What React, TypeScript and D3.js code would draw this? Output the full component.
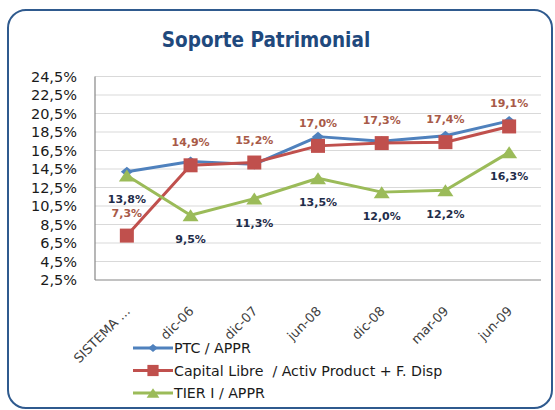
import React from "react";
import * as d3 from "d3";

const categories = ["SISTEMA ...", "dic-06", "dic-07", "jun-08", "dic-08", "mar-09", "jun-09"];
const ptcAppr = [14.2, 15.3, 15.0, 18.0, 17.5, 18.1, 19.7];
const capitalLibre = [7.3, 14.9, 15.2, 17.0, 17.3, 17.4, 19.1];
const tierAppr = [13.8, 9.5, 11.3, 13.5, 12.0, 12.2, 16.3];
const yTicks = [2.5, 4.5, 6.5, 8.5, 10.5, 12.5, 14.5, 16.5, 18.5, 20.5, 22.5, 24.5];
const seriesNames = ["PTC / APPR", "Capital Libre  / Activ Product + F. Disp", "TIER I / APPR"];
const title = "Soporte Patrimonial";

const W = 555;
const H = 410;
const FONT = "'DejaVu Sans', Verdana, sans-serif";
const TITLE_FONT = "'DejaVu Sans Condensed', 'DejaVu Sans', sans-serif";
const BLUE = "#4F81BD";
const RED = "#C0504D";
const GREEN = "#9BBB59";

const fmt = (v: number) => v.toFixed(1).replace(".", ",") + "%";

function Marker({ kind, x, y, color, scale = 1 }: { kind: string; x: number; y: number; color: string; scale?: number }) {
  if (kind === "diamond") {
    const w = 6 * scale, h = 5 * scale;
    return <path d={`M${x},${y - h}L${x + w},${y}L${x},${y + h}L${x - w},${y}Z`} fill={color} />;
  }
  if (kind === "square") {
    const s = 7 * scale;
    return <rect x={x - s} y={y - s} width={2 * s} height={2 * s} fill={color} />;
  }
  const w = 8 * scale, h = 6 * scale;
  return <path d={`M${x},${y - h}L${x + w},${y + h}L${x - w},${y + h}Z`} fill={color} />;
}

export default function App() {
  const left = 95, right = 541, top = 76.5, bottom = 280;
  const x = d3.scalePoint<string>().domain(categories).range([left, right]).padding(0.5);
  const y = d3.scaleLinear().domain([2.5, 24.5]).range([bottom, top]);
  const line = d3.line<number>().x((_, i) => x(categories[i]) as number).y((d) => y(d));

  const series = [
    { name: seriesNames[0], data: ptcAppr, color: BLUE, marker: "diamond", labels: false, above: true, labelColor: "#1F3A60" },
    { name: seriesNames[1], data: capitalLibre, color: RED, marker: "square", labels: true, above: true, labelColor: "#A85A48" },
    { name: seriesNames[2], data: tierAppr, color: GREEN, marker: "triangle", labels: true, above: false, labelColor: "#1F2D4A" },
  ];

  return (
    <svg width={W} height={H} style={{ position: "absolute", left: 0, top: 0, background: "#fff" }} fontFamily={FONT}>
      <rect x={8} y={10} width={544} height={398} rx={18} ry={18} fill="#fff" stroke="#2F5A8E" strokeWidth={2} />
      <text x={266} y={47} textAnchor="middle" fontSize={20.5} fontWeight="bold" fill="#1F497D" fontFamily={TITLE_FONT}>{title}</text>

      {yTicks.map((t) => (
        <g key={t}>
          {t > 2.5 && <line x1={left} x2={right} y1={y(t)} y2={y(t)} stroke="#D9D9D9" strokeWidth={1.2} />}
          <text x={77} y={y(t)} dy="0.36em" textAnchor="end" fontSize={14.5} fill="#1a1a1a">{fmt(t)}</text>
        </g>
      ))}
      <line x1={left} x2={left} y1={top} y2={bottom} stroke="#868686" strokeWidth={1.2} />
      <line x1={left} x2={right} y1={bottom} y2={bottom} stroke="#868686" strokeWidth={1.2} />

      {categories.map((c) => (
        <text key={c} transform={`translate(${(x(c) as number) + 4},${bottom + 32}) rotate(-45)`} textAnchor="end" fontSize={13} fill="#404040">{c}</text>
      ))}

      {series.map((s) => (
        <g key={s.name}>
          <path d={line(s.data) || ""} fill="none" stroke={s.color} strokeWidth={3} strokeLinejoin="round" />
          {s.data.map((v, i) => (
            <Marker key={i} kind={s.marker} x={x(categories[i]) as number} y={y(v)} color={s.color} />
          ))}
        </g>
      ))}

      {series.filter((s) => s.labels).map((s) => (
        <g key={s.name + "-l"}>
          {s.data.map((v, i) => (
            <text key={i} x={x(categories[i]) as number} y={s.above ? y(v) - 19 : y(v) + 28} textAnchor="middle" fontSize={11} fontWeight="bold" fill={s.labelColor}>{fmt(v)}</text>
          ))}
        </g>
      ))}

      {series.map((s, i) => {
        const ly = 348 + i * 22.5;
        return (
          <g key={s.name + "-leg"}>
            <line x1={133} x2={173} y1={ly} y2={ly} stroke={s.color} strokeWidth={3} />
            <Marker kind={s.marker} x={153} y={ly} color={s.color} scale={0.8} />
            <text x={174} y={ly} dy="0.36em" fontSize={14.2} fill="#1a1a1a" style={{ whiteSpace: "pre" }}>{s.name}</text>
          </g>
        );
      })}
    </svg>
  );
}
